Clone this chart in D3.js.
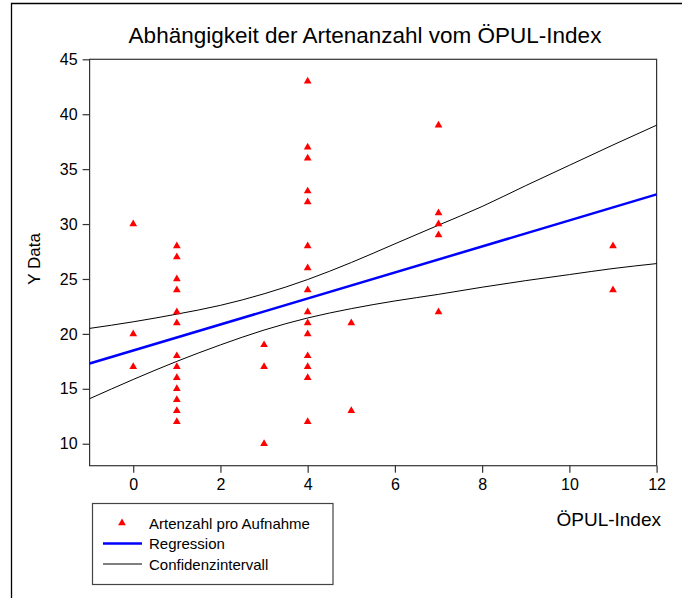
<!DOCTYPE html>
<html>
<head>
<meta charset="utf-8">
<script src="https://cdn.jsdelivr.net/npm/d3@7"></script>
<style>
  html, body { margin: 0; padding: 0; background: #fff; }
  svg text { font-family: "Liberation Sans", Arial, sans-serif; fill: #000; }
</style>
</head>
<body>
<div id="chart"></div>
<script>
// Punkte: ÖPUL-Index (x) und Artenzahl pro Aufnahme (y)
const pointX = [0, 0, 0,
  1, 1, 1, 1, 1, 1, 1, 1, 1, 1, 1, 1, 1,
  3, 3, 3,
  4, 4, 4, 4, 4, 4, 4, 4, 4, 4, 4, 4, 4, 4, 4,
  5, 5,
  7, 7, 7, 7, 7,
  11, 11];
const pointY = [30, 20, 17,
  28, 27, 25, 24, 22, 21, 18, 17, 16, 15, 14, 13, 12,
  19, 17, 10,
  43, 37, 36, 33, 32, 28, 26, 24, 22, 21, 20, 18, 17, 16, 12,
  21, 13,
  39, 31, 30, 29, 22,
  28, 24];

const regX = [-1, 12];
const regY = [17.3, 32.7];

// Konfidenzintervall
const ciX = [-1, 0, 1, 2, 3, 4, 5, 6, 7, 8, 9, 10, 11, 12];
const ciUpper = [20.5, 21.1, 21.8, 22.6, 23.65, 24.95, 26.5, 28.2, 29.9, 31.6, 33.5, 35.35, 37.2, 39.0];
const ciLower = [14.1, 15.85, 17.5, 19.0, 20.35, 21.45, 22.3, 23.0, 23.6, 24.25, 24.85, 25.4, 25.95, 26.4];

const xTicks = [0, 2, 4, 6, 8, 10, 12];
const yTicks = [10, 15, 20, 25, 30, 35, 40, 45];

const legendLabels = ['Artenzahl pro Aufnahme', 'Regression', 'Confidenzintervall'];

const width = 682;
const height = 598;
const plot = {left: 89.6, right: 656.6, top: 59.3, bottom: 465.7};

const svg = d3.select('#chart')
    .append('svg')
    .attr('width', width)
    .attr('height', height);

// äußerer Rahmen (links und oben)
svg.append('path')
    .attr('d', `M11.5,${height}V3.5H${width}`)
    .attr('fill', 'none')
    .attr('stroke', '#000')
    .attr('stroke-width', 1.3);

const x = d3.scaleLinear().domain([-1, 12]).range([plot.left, plot.right]);
const y = d3.scaleLinear().domain([8, 45]).range([plot.bottom, plot.top]);

// Plotrahmen
svg.append('rect')
    .attr('x', plot.left)
    .attr('y', plot.top)
    .attr('width', plot.right - plot.left)
    .attr('height', plot.bottom - plot.top)
    .attr('fill', 'none')
    .attr('stroke', '#333')
    .attr('stroke-width', 1.2);

// Achsen
const xAxis = svg.append('g')
    .attr('transform', `translate(0,${plot.bottom})`)
    .call(d3.axisBottom(x).tickValues(xTicks).tickSize(7).tickPadding(6).tickFormat(d3.format('d')));
const yAxis = svg.append('g')
    .attr('transform', `translate(${plot.left},0)`)
    .call(d3.axisLeft(y).tickValues(yTicks).tickSize(7).tickPadding(5).tickFormat(d3.format('d')));

[xAxis, yAxis].forEach(g => {
  g.select('.domain').remove();
  g.selectAll('line').attr('stroke', '#333').attr('stroke-width', 1.2);
  g.selectAll('text').style('font-size', '16px').attr('fill', '#000');
});

// Konfidenzintervall
const line = d3.line()
    .x(d => x(d[0]))
    .y(d => y(d[1]))
    .curve(d3.curveMonotoneX);

[ciUpper, ciLower].forEach(vals => {
  svg.append('path')
      .datum(ciX.map((v, i) => [v, vals[i]]))
      .attr('d', line)
      .attr('fill', 'none')
      .attr('stroke', '#000')
      .attr('stroke-width', 1);
});

// Regression
svg.append('path')
    .datum(regX.map((v, i) => [v, regY[i]]))
    .attr('d', d3.line().x(d => x(d[0])).y(d => y(d[1])))
    .attr('fill', 'none')
    .attr('stroke', '#0000ff')
    .attr('stroke-width', 2.5);

// Punkte
const tri = d3.symbol().type(d3.symbolTriangle).size(26);
svg.append('g')
    .selectAll('path')
    .data(pointX.map((v, i) => [v, pointY[i]]))
    .join('path')
    .attr('d', tri)
    .attr('transform', d => `translate(${x(d[0])},${y(d[1])})`)
    .attr('fill', '#ff0000');

// Titel und Achsenbeschriftungen
svg.append('text')
    .attr('x', 365)
    .attr('y', 43)
    .attr('text-anchor', 'middle')
    .style('font-size', '22.5px')
    .text('Abhängigkeit der Artenanzahl vom ÖPUL-Index');

svg.append('text')
    .attr('transform', 'translate(40,259) rotate(-90)')
    .attr('text-anchor', 'middle')
    .style('font-size', '17px')
    .text('Y Data');

svg.append('text')
    .attr('x', 661)
    .attr('y', 526)
    .attr('text-anchor', 'end')
    .style('font-size', '19px')
    .text('ÖPUL-Index');

// Legende
const legend = svg.append('g');
legend.append('rect')
    .attr('x', 92.5)
    .attr('y', 503.5)
    .attr('width', 240.5)
    .attr('height', 81)
    .attr('fill', '#fff')
    .attr('stroke', '#444')
    .attr('stroke-width', 1.2);

const rowY = [523, 543.5, 564];
legend.append('path')
    .attr('d', tri)
    .attr('transform', `translate(122,${rowY[0]})`)
    .attr('fill', '#ff0000');
legend.append('line')
    .attr('x1', 103).attr('x2', 142)
    .attr('y1', rowY[1]).attr('y2', rowY[1])
    .attr('stroke', '#0000ff').attr('stroke-width', 2.5);
legend.append('line')
    .attr('x1', 103).attr('x2', 142)
    .attr('y1', rowY[2]).attr('y2', rowY[2])
    .attr('stroke', '#000').attr('stroke-width', 1);

legend.selectAll('text.lbl')
    .data(legendLabels)
    .join('text')
    .attr('class', 'lbl')
    .attr('x', 149)
    .attr('y', (d, i) => rowY[i] + 5.5)
    .style('font-size', '15px')
    .text(d => d);
</script>
</body>
</html>
